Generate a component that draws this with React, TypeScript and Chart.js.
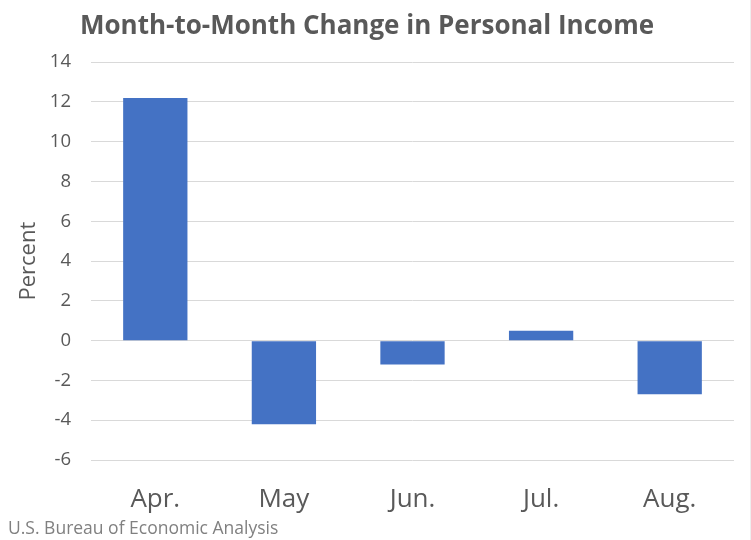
import React, { useEffect, useRef } from "react";
import { Chart, registerables } from "chart.js";

Chart.register(...registerables);

const categories = ["Apr.", "May", "Jun.", "Jul.", "Aug."];
const values = [12.2, -4.2, -1.2, 0.5, -2.7];
const yMin = -6;
const yMax = 14;
const yStep = 2;
const titleText = "Month-to-Month Change in Personal Income";
const yAxisTitle = "Percent";
const sourceText = "U.S. Bureau of Economic Analysis";

const FONT = "'Open Sans', 'Noto Sans', sans-serif";

const footerPlugin = {
  id: "footerText",
  afterDraw(chart: any) {
    const ctx = chart.ctx;
    ctx.save();
    ctx.font = `17.5px ${FONT}`;
    ctx.fillStyle = "#808080";
    ctx.textBaseline = "middle";
    ctx.textAlign = "left";
    ctx.fillText(sourceText, 8, 529);
    ctx.strokeStyle = "#eeeeee";
    ctx.lineWidth = 1;
    ctx.beginPath();
    ctx.moveTo(750.5, 0);
    ctx.lineTo(750.5, chart.height);
    ctx.stroke();
    ctx.restore();
  },
};

export default function App() {
  const ref = useRef<HTMLCanvasElement | null>(null);
  useEffect(() => {
    document.body.style.margin = "0";
    const c = ref.current!;
    const chart = new Chart(c, {
      type: "bar",
      data: {
        labels: categories,
        datasets: [
          {
            data: values,
            backgroundColor: "#4472C4",
            categoryPercentage: 1,
            barPercentage: 0.5,
          },
        ],
      },
      options: {
        animation: false,
        responsive: false,
        maintainAspectRatio: false,
        layout: { padding: { top: 0, left: 0, right: 17, bottom: 20 } },
        plugins: {
          legend: { display: false },
          tooltip: { enabled: false },
          title: {
            display: true,
            text: titleText,
            color: "#595959",
            font: { family: FONT, size: 26, weight: "bold" },
            padding: { top: 11, bottom: 20 },
          },
        },
        scales: {
          x: {
            grid: { display: false, drawTicks: false },
            border: { display: false },
            ticks: {
              color: "#595959",
              font: { family: FONT, size: 26 },
              padding: 24,
            },
            afterFit(scale: any) {
              scale.height = 60;
            },
          },
          y: {
            min: yMin,
            max: yMax,
            grid: { color: "#d9d9d9", drawTicks: false, lineWidth: 1 },
            border: { display: false },
            ticks: {
              stepSize: yStep,
              color: "#595959",
              font: { family: FONT, size: 18.5 },
              padding: 20,
            },
            title: {
              display: true,
              text: yAxisTitle,
              color: "#595959",
              font: { family: FONT, size: 22 },
              padding: { top: 16, bottom: 0 },
            },
            afterFit(scale: any) {
              scale.width = 91;
            },
          },
        },
      },
      plugins: [footerPlugin],
    });
    return () => chart.destroy();
  }, []);
  return (
    <div style={{ width: 751, height: 540, background: "#fff" }}>
      <canvas ref={ref} width={751} height={540} style={{ display: "block" }} />
    </div>
  );
}
